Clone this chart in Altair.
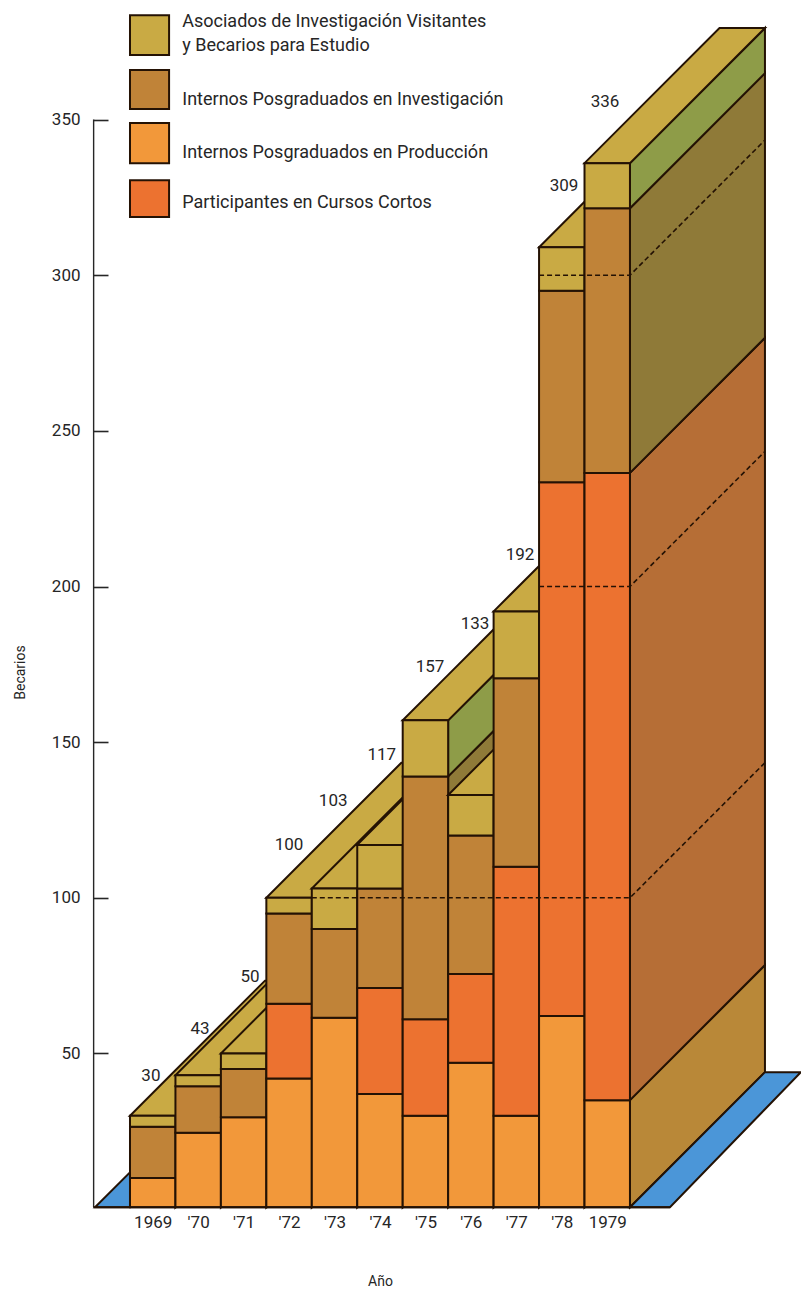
import altair as alt
import pandas as pd

# Fellows per year, stacked from the ground up
years = ["1969", "'70", "'71", "'72", "'73", "'74", "'75", "'76", "'77", "'78", "1979"]
produccion = [10, 24.5, 29.5, 42, 61.5, 37, 30, 47, 30, 62, 35]
cursos = [0, 0, 0, 24, 0, 34, 31, 28.5, 80, 171.5, 201.5]
investigacion = [16.5, 15, 15.5, 29, 28.5, 32, 78, 44.5, 60.5, 61.5, 85]
asociados = [3.5, 3.5, 5, 5, 13, 14, 18, 13, 21.5, 14, 14.5]
totals = [30, 43, 50, 100, 103, 117, 157, 133, 192, 309, 336]

# Where each total is written, in bar slots and fellows
total_slot = [0.46, 1.54, 2.64, 3.5, 4.47, 5.54, 6.6, 7.59, 8.58, 9.55, 10.45]
total_level = [42.7, 57.8, 74.5, 117, 131, 146, 174, 188, 210, 328.6, 355.6]

# Front and receding side colour of every series
FRONT = {"prod": "#f2983a", "curs": "#ec7230", "inv": "#c08338", "aso": "#c9aa44"}
SIDE = {"prod": "#b98838", "curs": "#b66e36", "inv": "#8f7a38", "aso": "#8e9c48"}
TOP = "#c9aa44"
BLUE = "#4b96d8"
INK = "#241204"

# Perspective offset of the block: depth in bar slots and in fellows
DEPTH_X = 2.97
DEPTH_Y = 43.4
GROUND = 0.6

series = [("prod", produccion), ("curs", cursos), ("inv", investigacion), ("aso", asociados)]

rows = []
poly = [0]


def add_poly(fill, pts):
    poly[0] += 1
    for x, lo, hi in pts:
        rows.append({"poly": poly[0], "fill": fill, "x": x, "lo": lo, "hi": hi})


# Ground strips on both sides of the block
add_poly(BLUE, [(-0.77, GROUND, GROUND), (0, GROUND, GROUND + 11.2)])

# Each bar overpaints the one on its left: side walls, top, then front
for i in range(len(years)):
    x0, x1 = i, i + 1
    bands = []
    running = 0
    for key, values in series:
        if values[i] > 0:
            bands.append((key, max(running, GROUND), running + values[i]))
            running += values[i]
    for key, lo, hi in bands:
        add_poly(SIDE[key], [(x1, lo, hi), (x1 + DEPTH_X, lo + DEPTH_Y, hi + DEPTH_Y)])
    top = totals[i]
    add_poly(TOP, [
        (x0, top, top),
        (x1, top, top + DEPTH_Y / DEPTH_X),
        (x0 + DEPTH_X, top + DEPTH_Y * (DEPTH_X - 1) / DEPTH_X, top + DEPTH_Y),
        (x1 + DEPTH_X, top + DEPTH_Y, top + DEPTH_Y),
    ])
    for key, lo, hi in bands:
        add_poly(FRONT[key], [(x0, lo, hi), (x1, lo, hi)])

FLOOR_W = 0.88
FLOOR_SLOPE = DEPTH_Y / (DEPTH_X + 0.79 - FLOOR_W)
add_poly(BLUE, [
    (11, GROUND, GROUND),
    (11 + FLOOR_W, GROUND, GROUND + DEPTH_Y * FLOOR_W / DEPTH_X),
    (11 + DEPTH_X, GROUND + (DEPTH_X - FLOOR_W) * FLOOR_SLOPE, GROUND + DEPTH_Y),
    (11 + DEPTH_X + 0.79, GROUND + DEPTH_Y, GROUND + DEPTH_Y),
])

faces = pd.DataFrame(rows)

x_scale = alt.Scale(domain=[-2.86, 14.763], nice=False, zero=False)
y_scale = alt.Scale(domain=[-26.3, 388.4], nice=False, zero=False)

FONT = "Roboto"
TEXT = "#262626"

solid = (
    alt.Chart(faces)
    .mark_area(stroke=INK, strokeWidth=2, interpolate="linear", opacity=1, strokeJoin="miter")
    .encode(
        x=alt.X(
            "x:Q",
            scale=x_scale,
            axis=alt.Axis(
                values=[i + 0.5 for i in range(len(years))],
                labelExpr="[" + ",".join('"%s"' % y for y in years) + "][round(datum.value - 0.5)]",
                grid=False,
                domain=False,
                ticks=False,
                offset=-84,
                labelPadding=7,
                labelFontSize=17,
                labelFont=FONT,
                labelColor=TEXT,
                title="Año",
                titleFont=FONT,
                titleFontSize=14,
                titleFontWeight="normal",
                titleColor=TEXT,
                titleX=380,
                titleY=67,
            ),
        ),
        y=alt.Y(
            "lo:Q",
            scale=y_scale,
            axis=alt.Axis(
                values=[50, 100, 150, 200, 250, 300, 350],
                grid=False,
                domain=False,
                tickSize=15,
                tickColor=TEXT,
                tickWidth=1.6,
                offset=-108,
                labelPadding=13,
                labelFontSize=17,
                labelFont=FONT,
                labelColor=TEXT,
                title="Becarios",
                titleFont=FONT,
                titleFontSize=14,
                titleFontWeight="normal",
                titleColor=TEXT,
                titleX=-81,
                titleY=672,
            ),
        ),
        y2="hi:Q",
        detail="poly:N",
        color=alt.Color("fill:N", scale=None),
    )
)

# Vertical axis line and ground line
axis_line = (
    alt.Chart(pd.DataFrame({"x": [-0.8], "lo": [GROUND], "hi": [350]}))
    .mark_rule(color=TEXT, strokeWidth=1.4)
    .encode(x=alt.X("x:Q", scale=x_scale), y=alt.Y("lo:Q", scale=y_scale), y2="hi:Q")
)
ground_line = (
    alt.Chart(pd.DataFrame({"x": [-0.8], "x2": [11 + FLOOR_W], "y": [GROUND]}))
    .mark_rule(color=INK, strokeWidth=2)
    .encode(x=alt.X("x:Q", scale=x_scale), x2="x2:Q", y=alt.Y("y:Q", scale=y_scale))
)

# Dashed guides at 100, 200 and 300 running across the bars and up the wall
guide_levels = [100, 200, 300]
guide_start = [4, 9, 9]
guide_rows = []
for level, start in zip(guide_levels, guide_start):
    guide_rows += [
        {"g": level, "x": start, "y": level},
        {"g": level, "x": 11, "y": level},
        {"g": level, "x": 11 + DEPTH_X, "y": level + DEPTH_Y},
    ]
guides = (
    alt.Chart(pd.DataFrame(guide_rows))
    .mark_line(color=INK, strokeWidth=1.6, strokeDash=[5, 3])
    .encode(x=alt.X("x:Q", scale=x_scale), y=alt.Y("y:Q", scale=y_scale), detail="g:N")
)

total_labels = (
    alt.Chart(pd.DataFrame({"x": total_slot, "y": total_level, "t": [str(t) for t in totals]}))
    .mark_text(font=FONT, fontSize=17, color=TEXT)
    .encode(x=alt.X("x:Q", scale=x_scale), y=alt.Y("y:Q", scale=y_scale), text="t:N")
)

# Key: swatches on the left, wording on the right
key_fill = [FRONT["aso"], FRONT["inv"], FRONT["prod"], FRONT["curs"]]
key_top = [383.5, 365.9, 348.9, 330.5]
key_bottom = [370.7, 353.4, 336, 318.7]
key_swatches = (
    alt.Chart(pd.DataFrame({"x": [0] * 4, "x2": [0.86] * 4, "y": key_bottom, "y2": key_top, "c": key_fill}))
    .mark_rect(stroke=INK, strokeWidth=2)
    .encode(
        x=alt.X("x:Q", scale=x_scale),
        x2="x2:Q",
        y=alt.Y("y:Q", scale=y_scale),
        y2="y2:Q",
        color=alt.Color("c:N", scale=None),
    )
)
key_text = [
    "Asociados de Investigación Visitantes",
    "y Becarios para Estudio",
    "Internos Posgraduados en Investigación",
    "Internos Posgraduados en Producción",
    "Participantes en Cursos Cortos",
]
key_level = [381.3, 373.6, 356.3, 339.3, 323.2]
key_labels = (
    alt.Chart(pd.DataFrame({"x": [1.15] * 5, "y": key_level, "t": key_text}))
    .mark_text(font=FONT, fontSize=18, color=TEXT, align="left")
    .encode(x=alt.X("x:Q", scale=x_scale), y=alt.Y("y:Q", scale=y_scale), text="t:N")
)

chart = (
    alt.layer(solid, axis_line, ground_line, guides, total_labels, key_swatches, key_labels)
    .properties(width=801, height=1291, padding=0, background="#ffffff", autosize=alt.AutoSizeParams(type="none"))
    .configure_view(stroke=None)
)

chart.save("out.html", embed_options={"renderer": "svg", "actions": False})
